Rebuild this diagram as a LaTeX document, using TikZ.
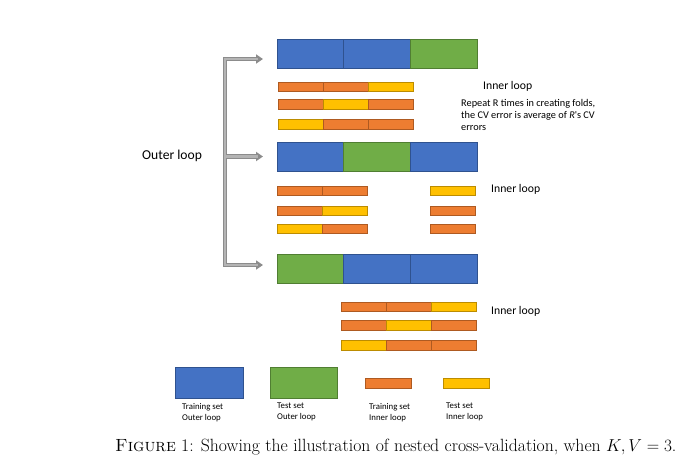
\documentclass[tikz,border=0pt]{standalone}
\usepackage{fontspec}
\newfontfamily\calibri{Carlito}
\usetikzlibrary{arrows.meta}

\definecolor{outerblue}{HTML}{4472C4}
\definecolor{outerblueline}{HTML}{2F528F}
\definecolor{outergreen}{HTML}{70AD47}
\definecolor{outergreenline}{HTML}{507E32}
\definecolor{innerorange}{HTML}{ED7D31}
\definecolor{innerorangeline}{HTML}{AE5A21}
\definecolor{inneryellow}{HTML}{FFC000}
\definecolor{inneryellowline}{HTML}{BC8C00}
\definecolor{loopgray}{HTML}{8C8C8C}
\definecolor{loopcoregray}{HTML}{B4B4B4}

\tikzset{
  seg/.style={anchor=north west, inner sep=0pt, outer sep=0pt, line width=0.8pt},
  bigseg/.style={seg, minimum width=66.67pt, minimum height=29pt},
  smallseg/.style={seg, minimum width=45pt, minimum height=9.5pt},
  trainO/.style={draw=outerblueline, fill=outerblue},
  testO/.style={draw=outergreenline, fill=outergreen},
  trainI/.style={draw=innerorangeline, fill=innerorange},
  testI/.style={draw=inneryellowline, fill=inneryellow},
  loopshaft/.style={draw=loopgray, line width=4.5pt},
  loopcore/.style={draw=loopcoregray, line width=2.2pt},
  looptip/.style={-{Triangle[length=7pt,width=9pt,fill=loopgray]}},
  note/.style={font=\calibri\fontsize{11.7}{14}\selectfont, inner sep=0pt},
  legendtxt/.style={font=\calibri\fontsize{8.8}{11}\selectfont, align=left, inner sep=0pt, anchor=north west}
}

\begin{document}
\begin{tikzpicture}[x=1pt,y=-1pt]
  \useasboundingbox[fill=white] (0,0) rectangle (690,469);

  % outer folds
  \foreach \k/\s in {1/trainO,2/trainO,3/testO}
    \node[bigseg,\s] (b1\k) at ({277+66.67*(\k-1)},39) {};
  \foreach \k/\s in {1/trainO,2/testO,3/trainO}
    \node[bigseg,\s] (b2\k) at ({277+66.67*(\k-1)},142) {};
  \foreach \k/\s in {1/testO,2/trainO,3/trainO}
    \node[bigseg,\s] (b3\k) at ({277+66.67*(\k-1)},254.5) {};

  % inner folds, first outer fold
  \foreach \r/\y/\a/\b/\c in {1/82/trainI/trainI/testI,2/99.5/trainI/testI/trainI,3/119.5/testI/trainI/trainI}
    \foreach \k/\s in {1/\a,2/\b,3/\c}
      \node[smallseg,\s] (p\r\k) at ({278+45*(\k-1)},\y) {};

  % inner folds, second outer fold
  \foreach \r/\y/\a/\b/\c in {1/186/trainI/trainI/testI,2/206/trainI/testI/trainI,3/224/testI/trainI/trainI}{
    \node[smallseg,\a] (q\r1) at (277,\y) {};
    \node[smallseg,\b] (q\r2) at (322,\y) {};
    \node[smallseg,\c] (q\r3) at (430,\y) {};
  }

  % inner folds, third outer fold
  \foreach \r/\y/\a/\b/\c in {1/302/trainI/trainI/testI,2/320.5/trainI/testI/trainI,3/340.5/testI/trainI/trainI}
    \foreach \k/\s in {1/\a,2/\b,3/\c}
      \node[smallseg,\s] (s\r\k) at ({341+45*(\k-1)},\y) {};

  % outer loop bracket
  \coordinate (top) at (225,59);
  \coordinate (mid) at (225,156.5);
  \coordinate (bot) at (225,265);
  \draw[loopshaft, {Triangle[length=7pt,width=9pt,fill=loopgray]}-{Triangle[length=7pt,width=9pt,fill=loopgray]},
        shorten <=14pt, shorten >=14pt] (top -| b11.west) -- (top) -- (bot) -- (bot -| b31.west);
  \draw[loopshaft, looptip, shorten >=14pt] (mid) -- (mid -| b21.west);
  \draw[loopcore, shorten <=19pt, shorten >=19pt] (top -| b11.west) -- (top) -- (bot) -- (bot -| b31.west);
  \draw[loopcore, shorten >=19pt] (mid) -- (mid -| b21.west);

  % labels
  \node[note, font=\calibri\fontsize{13.6}{16}\selectfont, anchor=west] (outerlbl) at (142,156) {Outer loop};
  \node[note, anchor=west] (inner1) at (483,86) {Inner loop};
  \node[note, anchor=west] (inner2) at (491,189) {Inner loop};
  \node[note, anchor=west] (inner3) at (491,311) {Inner loop};
  \node[note, font=\calibri\fontsize{10.3}{11.6}\selectfont, align=left, anchor=north west] (repeat) at (461,99.5)
    {Repeat R times in creating folds,\\the CV error is average of \textit{R}'s CV\\errors};

  % legend
  \node[seg, trainO, minimum width=68pt, minimum height=31pt] (legA) at (175,367) {};
  \node[seg, testO, minimum width=67pt, minimum height=31pt] (legB) at (270,367) {};
  \node[seg, trainI, minimum width=46pt, minimum height=10pt] (legC) at (365,378) {};
  \node[seg, testI, minimum width=46pt, minimum height=10pt] (legD) at (443,378) {};
  \node[legendtxt] (txtA) at (182,403) {Training set\\Outer loop};
  \node[legendtxt] (txtB) at (277,403) {Test set\\Outer loop};
  \node[legendtxt] (txtC) at (369,403) {Training set\\Inner loop};
  \node[legendtxt] (txtD) at (446,403) {Test set\\Inner loop};

  % caption
  \node[anchor=west, inner sep=0pt, font=\fontsize{17.7}{21}\selectfont] (caption) at (115,447)
    {\textsc{Figure} 1: Showing the illustration of nested cross-validation, when $K,V=3$.};
\end{tikzpicture}
\end{document}
